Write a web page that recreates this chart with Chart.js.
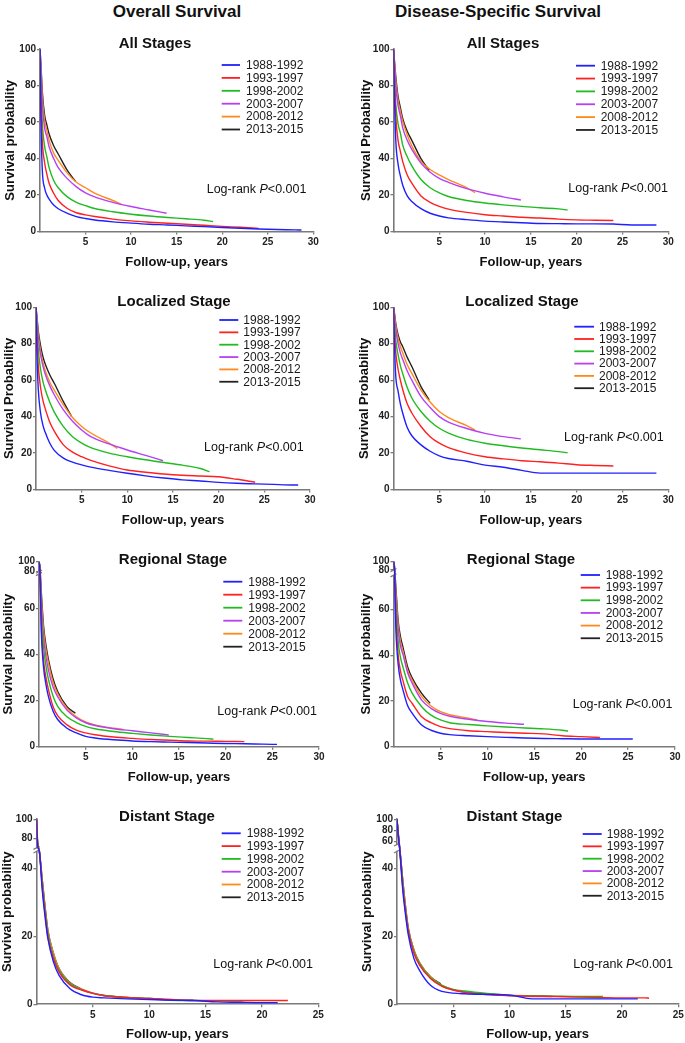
<!DOCTYPE html>
<html><head><meta charset="utf-8">
<script src="https://cdn.jsdelivr.net/npm/chart.js@4.4.1/dist/chart.umd.min.js"></script>
<style>
html,body{margin:0;padding:0;background:#fff;overflow:hidden;}
#page{position:relative;width:685px;height:1043px;overflow:hidden;}
canvas{position:absolute;}
.hdr{position:absolute;font:bold 17px "Liberation Sans",Arial,sans-serif;color:#111;white-space:nowrap;transform:translateX(-50%);}
</style></head><body><div id="page">
<div class="hdr" style="left:177px;top:2px">Overall Survival</div>
<div class="hdr" style="left:498px;top:2px">Disease-Specific Survival</div>
</div>
<script>
// ---------------- DATA ----------------
const PERIODS = ['1988-1992','1993-1997','1998-2002','2003-2007','2008-2012','2013-2015'];
const TIME = [0,0.1,0.25,0.5,0.75,1,1.5,2,3,4,5,6,8,10,12,14,16,18,20,22,24,26,28];
const X_TICKS_30 = [5,10,15,20,25,30];
const X_TICKS_25 = [5,10,15,20,25];
const Y_TICKS = [0,20,40,60,80,100];
const Y_TICKS_DIST_OS = [0,20,40,80,100];

// Overall survival, all stages
const OS_ALL_END = [28.7,24,19,13.9,8.9,3.9];
const OS_ALL = [
  [100,62,34,24,20,17.8,14.5,12.5,10,8.2,7.1,6.3,5.3,4.6,4,3.6,3.1,2.7,2.2,1.8,1.4,1.1,0.9,0.8],
  [100,75,50,38,31.5,26.5,21,17,12.6,10.3,9.1,8.2,6.8,5.8,5.1,4.5,4,3.4,2.8,2.3,1.7],
  [100,82,60,47,41,35,28,24,19,16,14.2,12.6,10.8,9.5,8.5,7.7,7.0,6.2,5.4],
  [100,88,70,57,52,46.5,40,35,29,24.5,21.2,19,16,13.7,11.8,10],
  [100,90,74,61,55.5,50,43,39,32,27,24,21,17,15],
  [100,92,77,64,58.5,53.5,47,42.5,33.5,27.5]
];
// Disease-specific survival, all stages
const DSS_ALL_END = [28.7,24,19,13.9,8.9,3.9];
const DSS_ALL = [
  [100,75,50,37,30.5,25.5,19.5,16.5,12.5,10,8.5,7.5,6.5,5.7,5.2,4.8,4.4,4.3,4.2,4.2,4.1,3.6,3.6,3.6],
  [100,84,63,50,44,38.5,31,26.5,19.5,16,13.8,12.3,10.5,9.2,8.5,7.8,7.4,6.8,6.4,6.2,6.0],
  [100,86,70,59,54,47.5,41,36,28.5,24,21.2,19.2,17,15.6,14.6,13.8,13,12.4,11.8],
  [100,92,80,69,63.5,57,50,45,37.5,32.5,29.2,27,23.5,21,19,17.3],
  [100,93,83,72,66,60.5,53,47,38.5,34,31,28.5,24,21.3],
  [100,94,85,74,68,62,55,50,40,33.5]
];
// Overall survival, localized
const OS_LOC_END = [28.7,24,19,13.9,8.9,3.9];
const OS_LOC = [
  [100,75,55,42,35.5,31.5,25.5,21.5,17.2,15,13.5,12.3,10.5,8.9,7.5,6.3,5.3,4.7,3.9,3.4,3.1,2.8,2.5,2.5],
  [100,85,68,56,49,44.5,37,32,24.5,20.5,18,16,13,10.7,9.5,8.5,7.8,7.4,7.0,5.6,4.0],
  [100,90,77,66,59.5,55,48,42.5,34.5,29,25.5,23,20,18,16.3,14.8,13.4,11.5,9.8],
  [100,93,83,74,68,63.5,57,52,43.7,37.5,32.7,29,25,21.7,18.7,15.8],
  [100,94,85,76,70,65.5,59,54.5,46.4,39.5,34.6,31,25.5,22.5],
  [100,95,87,79,73,69,63,58.3,48.2,40]
];
// Disease-specific survival, localized
const DSS_LOC_END = [28.7,24,19,13.9,8.9,3.9];
const DSS_LOC = [
  [100,80,62,54,47,42,34,29.5,24.5,21,18.5,17,15.5,13.4,12.2,10.5,9,9,9,9,9,9,9,9],
  [100,88,75,66,60,55,47,42,34.6,29,25.4,23,20,18,16.8,15.8,15.2,14.5,13.6,13.2,12.9],
  [100,92,82,74,68,63.7,56,50.2,42.8,37.5,33.6,31,27.5,25.4,24,22.8,21.8,20.8,20.2],
  [100,95,88,80,75,71.5,65,60,51,45,40,37,33.5,30.8,29,27.8],
  [100,96,90,83,78.5,75,68.5,63.7,54.6,48,42.8,39.5,35,32.7],
  [100,97,91,85,81,78.5,72.5,67.5,56.5,49.2]
];
// Overall survival, regional
const OS_REG_END = [25.5,22,18.7,13.9,9,3.9];
const OS_REG = [
  [100,80,50,34,27,22,15.5,11.8,8,6,4.5,3.8,3,2.5,2.2,2,1.8,1.6,1.4,1.3,1.1,1.0],
  [100,82,53,37,30,25,17.5,13.5,9.5,7.2,6,5.2,4.2,3.6,3.1,2.8,2.5,2.4,2.3,2.2],
  [100,85,58,43,35,29.5,22,17.5,13,10.5,8.8,7.8,6.6,5.8,5.1,4.5,4,3.5,3.3],
  [100,87,62,47,39,33.5,26,21.7,15.9,12.5,10.4,9.2,7.8,6.9,6,5.1],
  [100,89,65,50,42,36.5,28,23,16.6,13,10.8,9.5,8,7.5],
  [100,90,67,52,44,38,29.5,24,17.4,14.5]
];
// Disease-specific survival, regional
const DSS_REG_END = [25.5,22,18.6,13.9,8.9,3.9];
const DSS_REG = [
  [100,80,52,36,29,25,18,14.6,9.5,7.2,5.9,5.3,4.8,4.4,4.1,3.8,3.6,3.5,3.4,3.4,3.4,3.4],
  [100,83,57,40,33,29,22,18.9,13.1,10.5,8.8,7.9,7,6.6,6.2,5.9,5.6,4.8,4.4,4.0],
  [100,86,62,46,39,35,28,23.3,17.5,13.8,11.7,10.5,9.7,9.1,8.6,8.2,7.8,7.2,6.9],
  [100,88,66,51,44,40.5,32.5,27.7,20.4,16.8,14.6,13.3,12,11,10.3,9.8],
  [100,89,68,53,46,42,33.5,29,21.9,17.8,15.3,14,12.5,11.7],
  [100,90,70,55,48,43.7,35,30,23.3,19]
];
// Overall survival, distant
const OS_DIST_END = [21.4,22.3,18.3,13.9,8.9,3.9];
const OS_DIST = [
  [100,72,46,34,26,19.5,12.5,8.5,4.5,2.8,2.1,1.9,1.6,1.4,1.2,1.1,0.7,0.6,0.5,0.5],
  [100,74,47,35,27,20,13.5,9.5,5.6,4.2,3.2,2.5,2.0,1.7,1.4,1.1,1.1,1.1,1.1,1.1,1.1],
  [100,75,48,36,28,21,14,10,6,4.3,3.2,2.6,2.0,1.8,1.2,1.1,1.0,1.0,1.0],
  [100,75,48,36,28,21,14,10,6,4.4,3.3,2.6,2.0,1.6,1.3,1.3],
  [100,76,49,37,29,22,15,10.5,6.2,4.5,3.3,2.6,2.0,1.9],
  [100,76,49,37,29,22,15,10.5,6.3,4.6]
];
// Disease-specific survival, distant
const DSS_DIST_END = [21.4,22.4,18.3,13.8,8.9,3.9];
const DSS_DIST = [
  [100,73,46,34,26.5,20.5,13.5,10,5.5,3.8,3.3,3.1,2.9,2.7,1.6,1.6,1.6,1.6,1.6,1.6],
  [100,75,47,35,27.5,21.5,15,11.5,7.5,5.3,4.2,3.5,2.9,2.6,2.4,2.3,2.1,2,1.9,1.9,1.8],
  [100,76,48,36,28,22,15.5,12,7.8,5.6,4.4,3.9,3.2,2.7,2.5,2.4,2.3,2.3,2.3],
  [100,76,48,36,28,22,15.5,12,7.6,5.4,4.2,3.6,3,2.5,2.3,2.3],
  [100,77,49,37,29,22.5,16,12.3,8,5.6,4.3,3.6,3.0,2.8],
  [100,77,49,37,29,22.5,16,12.3,8,6]
];

// ---------------- STYLE / LAYOUT ----------------
const FONT = '"Liberation Sans", Arial, Helvetica, sans-serif';
const COLORS = ['#2020ff','#ff2020','#20bb20','#b640f2','#ff8a1c','#222222'];
const AXIS = '#7a7a7a';

const PANELS = [
 {id:'p1', vals:OS_ALL, ends:OS_ALL_END, title:'All Stages', ylabel:'Survival probability',
  L:40, T:49.2, R:313.3, B:231.5, xmax:30, xticks:X_TICKS_30, yticks:Y_TICKS, seg:null,
  tX:155, tY:44, lg:[221.7,240], lgT:246, lgY:65, lgDy:12.9, lrX:206.7, lrY:190, ytX:10},
 {id:'p2', vals:DSS_ALL, ends:DSS_ALL_END, title:'All Stages', ylabel:'Survival Probability',
  L:393.5, T:49.2, R:668.3, B:231.5, xmax:30, xticks:X_TICKS_30, yticks:Y_TICKS, seg:null,
  tX:503, tY:44, lg:[576,595], lgT:600.7, lgY:65.7, lgDy:12.85, lrX:568.3, lrY:188.3, ytX:366},
 {id:'p3', vals:OS_LOC, ends:OS_LOC_END, title:'Localized Stage', ylabel:'Survival Probability',
  L:36, T:307.3, R:310, B:489.5, xmax:30, xticks:X_TICKS_30, yticks:Y_TICKS, seg:null,
  tX:174, tY:301.7, lg:[219.3,238.3], lgT:243.3, lgY:320, lgDy:12.35, lrX:204, lrY:447.3, ytX:9},
 {id:'p4', vals:DSS_LOC, ends:DSS_LOC_END, title:'Localized Stage', ylabel:'Survival Probability',
  L:393.5, T:307.3, R:668.3, B:489.5, xmax:30, xticks:X_TICKS_30, yticks:Y_TICKS, seg:null,
  tX:522, tY:301.7, lg:[574.3,594], lgT:599, lgY:326.7, lgDy:12.3, lrX:564, lrY:437.3, ytX:364},
 {id:'p5', vals:OS_REG, ends:OS_REG_END, title:'Regional Stage', ylabel:'Survival probability',
  L:39, T:561.7, R:319, B:746.7, xmax:30, xticks:X_TICKS_30, yticks:Y_TICKS,
  seg:[[0,75,0,0.9335],[75,80,0.9335,0.9459],[80,100,0.9459,1]],
  tX:173, tY:560, lg:[223.3,242.3], lgT:248.3, lgY:581.7, lgDy:13, lrX:217.3, lrY:711.7, ytX:8.5},
 {id:'p6', vals:DSS_REG, ends:DSS_REG_END, title:'Regional Stage', ylabel:'Survival probability',
  L:393.5, T:561.7, R:675, B:746.7, xmax:30, xticks:X_TICKS_30, yticks:Y_TICKS,
  seg:[[0,75,0,0.9265],[75,80,0.9265,0.955],[80,100,0.955,1]],
  tX:521, tY:560, lg:[580.7,600], lgT:605.7, lgY:575, lgDy:12.65, lrX:572.7, lrY:704.3, ytX:366},
 {id:'p7', vals:OS_DIST, ends:OS_DIST_END, title:'Distant Stage', ylabel:'Survival probability',
  L:36.5, T:819.3, R:318.3, B:1004.3, xmax:25, xticks:X_TICKS_25, yticks:Y_TICKS_DIST_OS,
  seg:[[0,45,0,0.827],[45,70,0.827,0.846],[70,100,0.846,1]],
  tX:167, tY:817.3, lg:[221.7,240.7], lgT:246.7, lgY:833.3, lgDy:12.8, lrX:213.3, lrY:964.3, ytX:7.5},
 {id:'p8', vals:DSS_DIST, ends:DSS_DIST_END, title:'Distant Stage', ylabel:'Survival probability',
  L:397, T:819.3, R:678.3, B:1004.3, xmax:25, xticks:X_TICKS_25, yticks:Y_TICKS,
  seg:[[0,45,0,0.827],[45,55,0.827,0.864],[55,100,0.864,1]],
  tX:514.5, tY:817, lg:[582.7,601.7], lgT:606.7, lgY:834, lgDy:12.35, lrX:573.3, lrY:964.3, ytX:367.5}
];

// ---------------- broken y scale ----------------
const SEGMENTS = {};
const BaseLinear = Chart.LinearScale || Chart.registry.getScale('linear');
class BrokenScale extends BaseLinear {
  _segs() { return SEGMENTS[this.chart.canvas.id]; }
  _dec(v) {
    const segs = this._segs();
    if (v <= segs[0][0]) return segs[0][2];
    for (const s of segs) { if (v <= s[1]) return s[2] + (v - s[0]) / (s[1] - s[0]) * (s[3] - s[2]); }
    return segs[segs.length - 1][3];
  }
  getPixelForValue(value) { return this.getPixelForDecimal(this._dec(value)); }
  getValueForPixel(pixel) {
    const d = this.getDecimalForPixel(pixel);
    for (const s of this._segs()) { if (d <= s[3]) return s[0] + (d - s[2]) / (s[3] - s[2]) * (s[1] - s[0]); }
    return 100;
  }
}
BrokenScale.id = 'broken';
BrokenScale.defaults = BaseLinear.defaults;
Chart.register(BrokenScale);

function series(vals, end) {
  const n = TIME.filter(t => t < end).length;
  const pts = [];
  for (let i = 0; i < n && i < vals.length - 1; i++) pts.push({x: TIME[i], y: vals[i]});
  pts.push({x: end, y: vals[vals.length - 1]});
  return pts;
}

const page = document.getElementById('page');
PANELS.forEach(p => {
  const cl = Math.floor(p.L - 48), ct = Math.floor(p.T - 22);
  const YW = p.L - cl, PT = p.T - ct;
  const W = Math.ceil(p.R - cl + 16), PR = W - (p.R - cl);
  const H = Math.ceil(p.B - ct + 40), XH = H - (p.B - ct);
  const cv = document.createElement('canvas');
  cv.id = p.id; cv.width = W; cv.height = H;
  cv.style.left = cl + 'px'; cv.style.top = ct + 'px';
  cv.style.width = W + 'px'; cv.style.height = H + 'px';
  page.appendChild(cv);
  if (p.seg) SEGMENTS[p.id] = p.seg;

  const overlay = {
    id: 'ov_' + p.id,
    beforeDatasetsDraw(chart) {
      if (!p.seg) return;
      const ctx = chart.ctx, y = chart.scales.y, ax = chart.chartArea.left;
      const pLow = y.getPixelForValue(p.seg[1][0]);
      const pHigh = y.getPixelForValue(p.seg[1][1]);
      ctx.save();
      ctx.fillStyle = '#fff';
      ctx.fillRect(ax - 4, pHigh + 0.6, 8, pLow - pHigh - 1.2);
      ctx.strokeStyle = AXIS; ctx.lineWidth = 1.2;
      [pLow, pHigh].forEach(py => {
        ctx.beginPath(); ctx.moveTo(ax - 3, py + 1.6); ctx.lineTo(ax + 3, py - 1.6); ctx.stroke();
      });
      ctx.restore();
    },
    afterDraw(chart) {
      const ctx = chart.ctx;
      ctx.save();
      ctx.fillStyle = '#111';
      ctx.textBaseline = 'middle';
      ctx.font = 'bold 15px ' + FONT; ctx.textAlign = 'center';
      ctx.fillText(p.title, p.tX - cl, p.tY - ct);
      ctx.textAlign = 'left';
      ctx.font = '12px ' + FONT;
      chart.data.datasets.forEach((ds, i) => {
        const yy = p.lgY + i * p.lgDy - ct;
        ctx.strokeStyle = ds.borderColor; ctx.lineWidth = 1.8;
        ctx.beginPath(); ctx.moveTo(p.lg[0] - cl, yy); ctx.lineTo(p.lg[1] - cl, yy); ctx.stroke();
        ctx.fillStyle = '#1a1a1a';
        ctx.fillText(ds.label, p.lgT - cl, yy + 0.5);
      });
      let x = p.lrX - cl; const y = p.lrY - ct;
      ctx.fillStyle = '#111';
      ctx.font = '12.5px ' + FONT; ctx.fillText('Log-rank ', x, y); x += ctx.measureText('Log-rank ').width;
      ctx.font = 'italic 12.5px ' + FONT; ctx.fillText('P', x, y); x += ctx.measureText('P').width;
      ctx.font = '12.5px ' + FONT; ctx.fillText('<0.001', x, y);
      ctx.restore();
    }
  };

  const tickFont = {family: FONT, size: 10, weight: 'bold'};
  const titleFont = {family: FONT, size: 13, weight: 'bold'};
  new Chart(cv, {
    type: 'line',
    data: {
      datasets: PERIODS.map((lab, i) => ({
        label: lab, data: series(p.vals[i], p.ends[i]),
        borderColor: COLORS[i], backgroundColor: COLORS[i],
        borderWidth: 1.4, pointRadius: 0, fill: false,
        cubicInterpolationMode: 'monotone'
      }))
    },
    options: {
      responsive: false, animation: false, devicePixelRatio: 1,
      layout: {padding: {left: 0, top: PT, right: PR, bottom: 0}},
      plugins: {legend: {display: false}, tooltip: {enabled: false}},
      events: [],
      scales: {
        x: {
          type: 'linear', min: 0, max: p.xmax,
          afterBuildTicks: s => { s.ticks = p.xticks.map(v => ({value: v})); },
          afterFit: s => { s.height = XH; },
          grid: {drawOnChartArea: false, color: AXIS, tickColor: AXIS, tickLength: 3, lineWidth: 1.3},
          border: {display: true, color: AXIS, width: 1.6},
          ticks: {autoSkip: false, maxRotation: 0, padding: 2, color: '#222', font: tickFont, callback: v => String(v)},
          title: {display: true, text: 'Follow-up, years', color: '#111', font: titleFont,
                  padding: {top: 0, bottom: XH - 30.5 - 7.8}}
        },
        y: {
          type: p.seg ? 'broken' : 'linear', min: 0, max: 100,
          afterBuildTicks: s => { s.ticks = p.yticks.map(v => ({value: v})); },
          afterFit: s => { s.width = YW; },
          grid: {drawOnChartArea: false, color: AXIS, tickColor: AXIS, tickLength: 3, lineWidth: 1.3},
          border: {display: true, color: AXIS, width: 1.6},
          ticks: {autoSkip: false, padding: 1, color: '#222', font: tickFont, callback: v => String(v)},
          title: {display: true, text: p.ylabel, color: '#111', font: titleFont,
                  padding: {top: p.ytX - cl - 7.8, bottom: 0}}
        }
      }
    },
    plugins: [overlay]
  });
});
</script>
</body></html>
